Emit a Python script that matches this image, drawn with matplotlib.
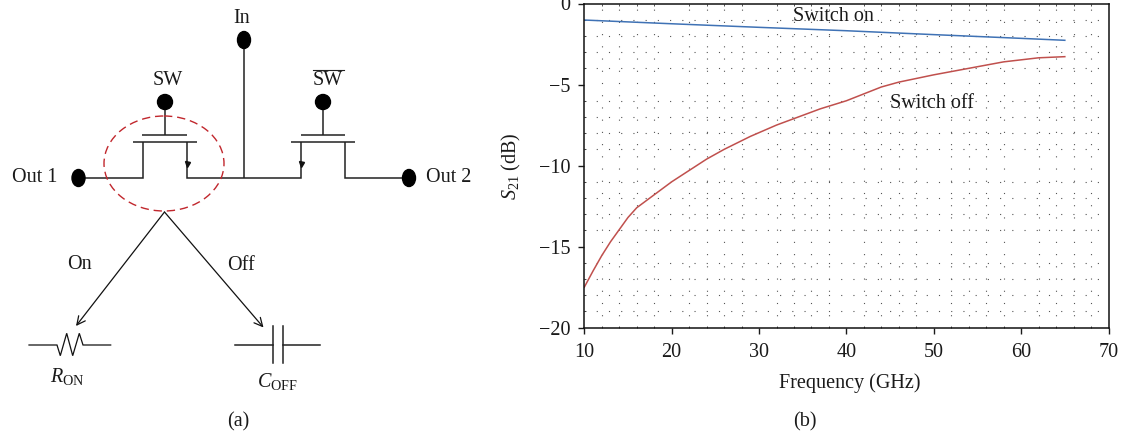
import numpy as np
import matplotlib
matplotlib.use('Agg')
import matplotlib.pyplot as plt
from matplotlib.patches import Ellipse

plt.rcParams['font.family'] = ['Liberation Serif', 'DejaVu Serif']
plt.rcParams['mathtext.fontset'] = 'custom'
plt.rcParams['mathtext.rm'] = 'Liberation Serif'
plt.rcParams['mathtext.it'] = 'Liberation Serif:italic'

# measured values for panel (b)
freq_on = [10, 20, 30, 40, 50, 60, 65]
s21_on = [-1.02, -1.25, -1.47, -1.68, -1.92, -2.15, -2.27]
freq_off = [10, 11, 12, 13, 14, 15, 16, 18, 20, 22, 24, 26, 29, 32, 37, 40, 44, 46, 50, 54, 58, 62, 65]
s21_off = [-17.5, -16.5, -15.55, -14.7, -13.95, -13.2, -12.6, -11.8, -11.0, -10.3, -9.6, -9.0, -8.2, -7.5, -6.5, -6.0, -5.15, -4.85, -4.4, -4.0, -3.6, -3.35, -3.28]
xticks = [10, 20, 30, 40, 50, 60, 70]
yticks = [0, -5, -10, -15, -20]

# schematic wires of panel (a), in image pixels
wires = [
    [(244, 40), (244, 178)],
    [(78, 178), (143, 178), (143, 142)],
    [(186.5, 142), (186.5, 178), (301, 178), (301, 142)],
    [(345, 142), (345, 178), (409, 178)],
    [(165, 102), (165, 135)],
    [(323, 102), (323, 135)],
    [(142, 135), (187, 135)],
    [(301, 135), (345, 135)],
    [(133, 142), (197, 142)],
    [(291, 142), (355, 142)],
]
resistor = [(29, 345), (57, 345), (60.3, 355.7), (66.7, 333.3), (72.7, 355.7), (79.3, 333.3), (83, 345), (110.7, 345)]
capacitor = [
    [(235, 344.5), (273, 344.5)],
    [(283, 344.5), (320, 344.5)],
    [(273.3, 326), (273.3, 363)],
    [(283.2, 326), (283.2, 363)],
]
nodes = [(244, 40, 13, 17), (78.5, 178, 13, 17), (409, 178, 13, 17), (165, 102, 15, 15), (323, 102, 15, 15)]
labels = [
    (242, 18.5, 'In'), (167.5, 80.5, 'SW'), (328, 80.5, 'SW'), (79, 264.5, 'On'), (240.5, 265.5, 'Off'),
    (35, 178, 'Out 1'), (449, 178, 'Out 2'), (238, 422, '(a)'), (805, 422, '(b)'),
    (67, 376.5, r'$\mathit{R}_{\mathrm{ON}}$'), (277, 381.5, r'$\mathit{C}_{\mathrm{OFF}}$'),
]

W, H = 1124, 434
FS = 14.5
fig = plt.figure(figsize=(W / 100, H / 100), dpi=100)

# full figure layer in pixel coordinates for the schematic
sch = fig.add_axes([0, 0, 1, 1])
sch.set_xlim(0, W)
sch.set_ylim(H, 0)
sch.axis('off')

for w in wires:
    xs, ys = zip(*w)
    sch.plot(xs, ys, color='#222222', lw=1.1, solid_capstyle='butt', solid_joinstyle='miter')
sch.plot(*zip(*resistor), color='#111111', lw=0.9, solid_joinstyle='miter')
for w in capacitor:
    sch.plot(*zip(*w), color='#222222', lw=1.1)
for cx, cy, nw, nh in nodes:
    sch.add_patch(Ellipse((cx, cy), nw, nh, color='black', zorder=3))
sch.plot([186.5, 301], [164, 164], ls='none', marker='v', ms=3.6, color='#111111')
sch.plot([313, 344], [70, 70], color='#222222', lw=0.8)
sch.add_patch(Ellipse((164, 163.5), 120, 95, fill=False, ec='#c1272d', lw=1.0, ls=(0, (6, 3.5)), zorder=4))
for tip in [(76, 326), (263.5, 327.5)]:
    sch.annotate('', xy=tip, xytext=(164.5, 212),
                 arrowprops=dict(arrowstyle='->', color='#111111', lw=0.9, mutation_scale=15, shrinkA=0, shrinkB=0))
for x, y, s in labels:
    sch.text(x, y, s, ha='center', va='center', fontsize=FS, color='#1a1a1a')

# panel (b)
left, right, top, bottom = 584.3, 1108.5, 3.5, 327.7
ax = fig.add_axes([left / W, 1 - bottom / H, (right - left) / W, (bottom - top) / H])
ax.patch.set_alpha(0)
ax.set_xlim(10, 70)
ax.set_ylim(-20, 0)
ax.set_xticks(xticks)
ax.set_yticks(yticks)
ax.set_yticklabels(['0', '\u22125', '\u221210', '\u221215', '\u221220'])
ax.set_xticks(np.arange(10, 71, 2), minor=True)
ax.set_yticks(np.arange(-20, 1, 1), minor=True)
ax.grid(which='minor', color='#555555', lw=0.8, ls=(0, (1, 10)))
ax.tick_params(which='major', direction='out', length=4, width=1, labelsize=FS, colors='#1a1a1a')
ax.tick_params(axis='x', which='major', pad=7)
ax.tick_params(axis='y', which='major', pad=6)
ax.tick_params(which='minor', direction='in', length=1.5, width=0.6, top=True, right=False, color='#333333')
for s in ax.spines.values():
    s.set_linewidth(1.1)
    s.set_color('#111111')

ax.plot(freq_on, s21_on, color='#3f72b5', lw=1.1)
ax.plot(freq_off, s21_off, color='#c0504d', lw=1.1)
ax.text(38.5, -0.8, 'Switch on', ha='center', va='center', fontsize=FS, color='#1a1a1a')
ax.text(49.8, -6.15, 'Switch off', ha='center', va='center', fontsize=FS, color='#1a1a1a')

fig.text(850 / W, 1 - 383 / H, 'Frequency (GHz)', ha='center', va='center', fontsize=FS, color='#1a1a1a')
fig.text(511 / W, 1 - 166 / H, r'$\mathit{S}_{21}$ (dB)', rotation=90, ha='center', va='center', fontsize=FS, color='#1a1a1a')

fig.savefig('out.png', dpi=100)
